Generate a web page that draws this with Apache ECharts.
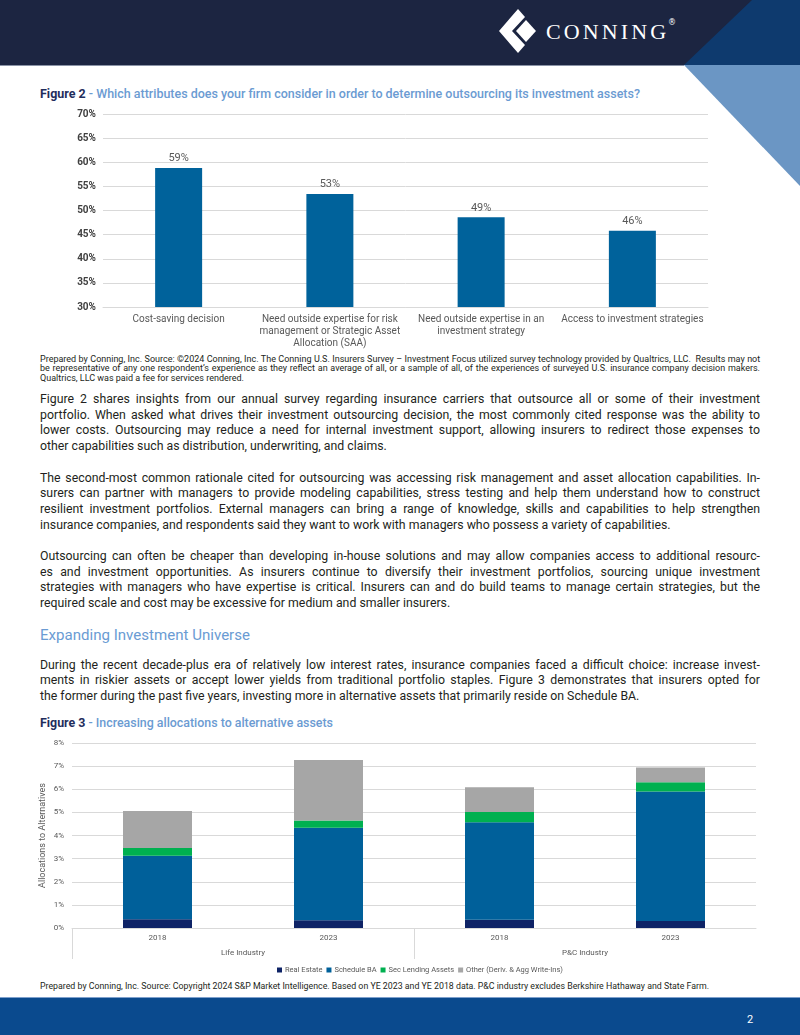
<!DOCTYPE html>
<html>
<head>
<meta charset="utf-8">
<script src="https://cdn.jsdelivr.net/npm/echarts@6/dist/echarts.min.js"></script>
<style>
  html, body { margin: 0; padding: 0; background: #fff; }
  #page { position: relative; width: 800px; height: 1035px; overflow: hidden; font-family: Roboto, "Open Sans", sans-serif; color: #231f20; }
  .ln { position: absolute; left: 40px; white-space: nowrap; }
  .ln > span { display: inline-block; transform-origin: 0 50%; }
  .body { font-size: 12.3px; line-height: 15.7px; height: 15.7px; }
  .note { font-size: 9px; line-height: 10px; height: 10px; }
  .ttl { font-size: 12px; line-height: 16px; height: 16px; font-weight: 500; color: #6b9bd2; }
  .ttl b { color: #1f2d5c; font-weight: 700; }
  .head { font-size: 14.5px; line-height: 18px; height: 18px; color: #6a9bd3; }
  .chart { position: absolute; left: 0; width: 800px; }
</style>
</head>
<body>
<div id="page">
  <svg width="800" height="1035" style="position:absolute;left:0;top:0">
    <rect x="0" y="0" width="800" height="65" fill="#1c2541"/>
    <line x1="0" y1="65.5" x2="684" y2="65.5" stroke="#8a93a6" stroke-width="1"/>
    <polygon points="752,0 800,0 800,65 684,65" fill="#0e3a6e"/>
    <polygon points="684,65 800,65 800,186" fill="#6b96c4"/>
    <!-- logo -->
    <polygon points="518,9 499,31 518,53 525,45 512,31 525,17" fill="#fff"/>
    <polygon points="526,20 536,31 526,42 516,31" fill="#fff"/>
    <text x="546" y="39" fill="#fff" font-family="Liberation Serif, serif" font-size="22" letter-spacing="3.1">CONNING</text>
    <text x="668" y="25" fill="#fff" font-family="DejaVu Sans, sans-serif" font-size="8">®</text>
    <!-- footer -->
    <rect x="0" y="997" width="800" height="1" fill="#7ea0cc"/>
    <rect x="0" y="998" width="800" height="37" fill="#0a4a8e"/>
    <text x="750" y="1023" fill="#fff" font-family="Roboto, sans-serif" font-size="11" text-anchor="middle">2</text>
  </svg>

  <div id="text"></div>
  <div id="fig2" class="chart" style="top:100px;height:252px"></div>
  <div id="fig3" class="chart" style="top:735px;height:245px"></div>
</div>

<script>
// ---- data ----
const fig2Categories = [
  'Cost-saving decision',
  'Need outside expertise for risk\nmanagement or Strategic Asset\nAllocation (SAA)',
  'Need outside expertise in an\ninvestment strategy',
  'Access to investment strategies'
];
const fig2Values = [58.8, 53.4, 48.6, 45.8];
const fig2AxisMin = 30;
const fig2AxisMax = 70;
const fig2AxisStep = 5;

const fig3Years = ['2018', '2023', '2018', '2023'];
const fig3Groups = ['Life Industry', 'P&C Industry'];
const fig3SeriesNames = ['Real Estate', 'Schedule BA', 'Sec Lending Assets', 'Other (Deriv. & Agg Write-Ins)'];
const fig3RealEstate = [0.38, 0.33, 0.36, 0.30];
const fig3ScheduleBA = [2.74, 4.00, 4.21, 5.60];
const fig3SecLending = [0.34, 0.32, 0.45, 0.40];
const fig3Other = [1.60, 2.61, 1.07, 0.64];
const fig3AxisMin = 0;
const fig3AxisMax = 8;
const fig3AxisStep = 1;

// ---- page text ----
// each line: [class, top, html, fit mode, target width]
// fit: 'j' = justify with word spacing, 'n' = natural (shrink only), 's' = scale to width
const textLines = [
  ['ttl', 86, '<b>Figure 2</b> - Which attributes does your firm consider in order to determine outsourcing its investment assets?', 's', 600],

  ['note', 353.5, 'Prepared by Conning, Inc. Source: ©2024 Conning, Inc. The Conning U.S. Insurers Survey – Investment Focus utilized survey technology provided by Qualtrics, LLC.&nbsp; Results may not', 'j', 720],
  ['note', 363.2, 'be representative of any one respondent’s experience as they reflect an average of all, or a sample of all, of the experiences of surveyed U.S. insurance company decision makers.', 'j', 720],
  ['note', 372.9, 'Qualtrics, LLC was paid a fee for services rendered.', 'n', 720],

  ['body', 392, 'Figure 2 shares insights from our annual survey regarding insurance carriers that outsource all or some of their investment', 'j', 720],
  ['body', 407.7, 'portfolio. When asked what drives their investment outsourcing decision, the most commonly cited response was the ability to', 'j', 720],
  ['body', 423.4, 'lower costs. Outsourcing may reduce a need for internal investment support, allowing insurers to redirect those expenses to', 'j', 720],
  ['body', 439.1, 'other capabilities such as distribution, underwriting, and claims.', 'n', 720],

  ['body', 470.5, 'The second-most common rationale cited for outsourcing was accessing risk management and asset allocation capabilities. In-', 'j', 720],
  ['body', 486.2, 'surers can partner with managers to provide modeling capabilities, stress testing and help them understand how to construct', 'j', 720],
  ['body', 501.9, 'resilient investment portfolios. External managers can bring a range of knowledge, skills and capabilities to help strengthen', 'j', 720],
  ['body', 517.6, 'insurance companies, and respondents said they want to work with managers who possess a variety of capabilities.', 'n', 720],

  ['body', 549, 'Outsourcing can often be cheaper than developing in-house solutions and may allow companies access to additional resourc-', 'j', 720],
  ['body', 564.7, 'es and investment opportunities. As insurers continue to diversify their investment portfolios, sourcing unique investment', 'j', 720],
  ['body', 580.4, 'strategies with managers who have expertise is critical. Insurers can and do build teams to manage certain strategies, but the', 'j', 720],
  ['body', 596.1, 'required scale and cost may be excessive for medium and smaller insurers.', 'n', 720],

  ['head', 627, 'Expanding Investment Universe', 's', 210],

  ['body', 657.5, 'During the recent decade-plus era of relatively low interest rates, insurance companies faced a difficult choice: increase invest-', 'j', 720],
  ['body', 673.2, 'ments in riskier assets or accept lower yields from traditional portfolio staples. Figure 3 demonstrates that insurers opted for', 'j', 720],
  ['body', 688.9, 'the former during the past five years, investing more in alternative assets that primarily reside on Schedule BA.', 'n', 720],

  ['ttl', 714.5, '<b>Figure 3</b> - Increasing allocations to alternative assets', 's', 293],

  ['note', 981, 'Prepared by Conning, Inc. Source: Copyright 2024 S&amp;P Market Intelligence. Based on YE 2023 and YE 2018 data. P&amp;C industry excludes Berkshire Hathaway and State Farm.', 's', 669]
];

const textBox = document.getElementById('text');
const fitItems = [];
textLines.forEach(([cls, top, html, mode, w]) => {
  const div = document.createElement('div');
  div.className = 'ln ' + cls;
  div.style.top = top + 'px';
  const span = document.createElement('span');
  span.innerHTML = html;
  div.appendChild(span);
  textBox.appendChild(div);
  fitItems.push([span, mode, w]);
});

function fitText() {
  fitItems.forEach(([span, mode, w]) => {
    span.style.wordSpacing = '0px';
    span.style.transform = '';
    const nat = span.getBoundingClientRect().width;
    const gaps = (span.textContent.match(/ /g) || []).length;
    if (mode === 's' || nat > w) {
      span.style.transform = 'scaleX(' + (w / nat) + ')';
    } else if (mode === 'j' && gaps) {
      span.style.wordSpacing = ((w - nat) / gaps) + 'px';
    }
  });
}
fitText();
if (document.fonts && document.fonts.ready) document.fonts.ready.then(fitText);

// ---- Figure 2 ----
const fig2 = echarts.init(document.getElementById('fig2'));
fig2.setOption({
  animation: false,
  textStyle: { fontFamily: 'Roboto, sans-serif' },
  grid: { left: 103, top: 14, width: 605, height: 193 },
  xAxis: {
    type: 'category',
    data: fig2Categories,
    axisTick: { show: false },
    axisLine: { lineStyle: { color: '#d9d9d9' } },
    axisLabel: { interval: 0, color: '#595959', fontSize: 10, lineHeight: 12.3, margin: 6 }
  },
  yAxis: {
    type: 'value',
    min: fig2AxisMin,
    max: fig2AxisMax,
    interval: fig2AxisStep,
    axisLine: { show: false },
    axisTick: { show: false },
    axisLabel: { formatter: '{value}%', color: '#404040', fontSize: 10, fontWeight: 'bold', margin: 7 },
    splitLine: { lineStyle: { color: '#d9d9d9' } }
  },
  series: [{
    type: 'bar',
    data: fig2Values,
    barWidth: 47,
    itemStyle: { color: '#00629b' },
    label: {
      show: true,
      position: 'top',
      distance: 4,
      color: '#595959',
      fontSize: 11,
      formatter: (p) => Math.round(p.value) + '%'
    }
  }]
});

// ---- Figure 3 ----
const fig3 = echarts.init(document.getElementById('fig3'));
const fig3Colors = ['#0e2366', '#00609a', '#00b050', '#a6a6a6'];
const fig3Data = [fig3RealEstate, fig3ScheduleBA, fig3SecLending, fig3Other];
fig3.setOption({
  animation: false,
  textStyle: { fontFamily: 'Roboto, sans-serif' },
  grid: { left: 72, top: 8, width: 684, height: 185 },
  legend: {
    data: fig3SeriesNames,
    left: 272,
    top: 226,
    icon: 'rect',
    itemWidth: 5,
    itemHeight: 5,
    itemGap: 4,
    textStyle: { fontSize: 7.5, color: '#595959', padding: [0, 0, 0, -2] }
  },
  xAxis: [{
    type: 'category',
    data: fig3Years,
    axisTick: { show: false },
    axisLine: { lineStyle: { color: '#d9d9d9' } },
    axisLabel: { color: '#595959', fontSize: 8, margin: 6 }
  }, {
    type: 'value',
    position: 'bottom',
    min: 0,
    max: fig3Groups.length,
    axisLine: { show: false },
    splitLine: { show: false },
    axisTick: { show: true, customValues: [0, 1], length: 31, lineStyle: { color: '#d9d9d9' } },
    axisLabel: {
      customValues: fig3Groups.map((g, i) => i + 0.5),
      formatter: (v) => fig3Groups[Math.floor(v)],
      color: '#595959',
      fontSize: 8,
      margin: 21
    }
  }],
  yAxis: {
    type: 'value',
    min: fig3AxisMin,
    max: fig3AxisMax,
    interval: fig3AxisStep,
    name: 'Allocations to Alternatives',
    nameLocation: 'middle',
    nameGap: 25,
    nameMoveOverlap: false,
    nameTextStyle: { color: '#595959', fontSize: 9 },
    axisLine: { show: false },
    axisTick: { show: false },
    axisLabel: { formatter: '{value}%', color: '#595959', fontSize: 8, margin: 8 },
    splitLine: { lineStyle: { color: '#d9d9d9' } }
  },
  series: fig3SeriesNames.map((name, i) => ({
    name: name,
    type: 'bar',
    stack: 'alloc',
    xAxisIndex: 0,
    barWidth: 69,
    data: fig3Data[i],
    itemStyle: { color: fig3Colors[i] }
  }))
});
</script>
</body>
</html>
